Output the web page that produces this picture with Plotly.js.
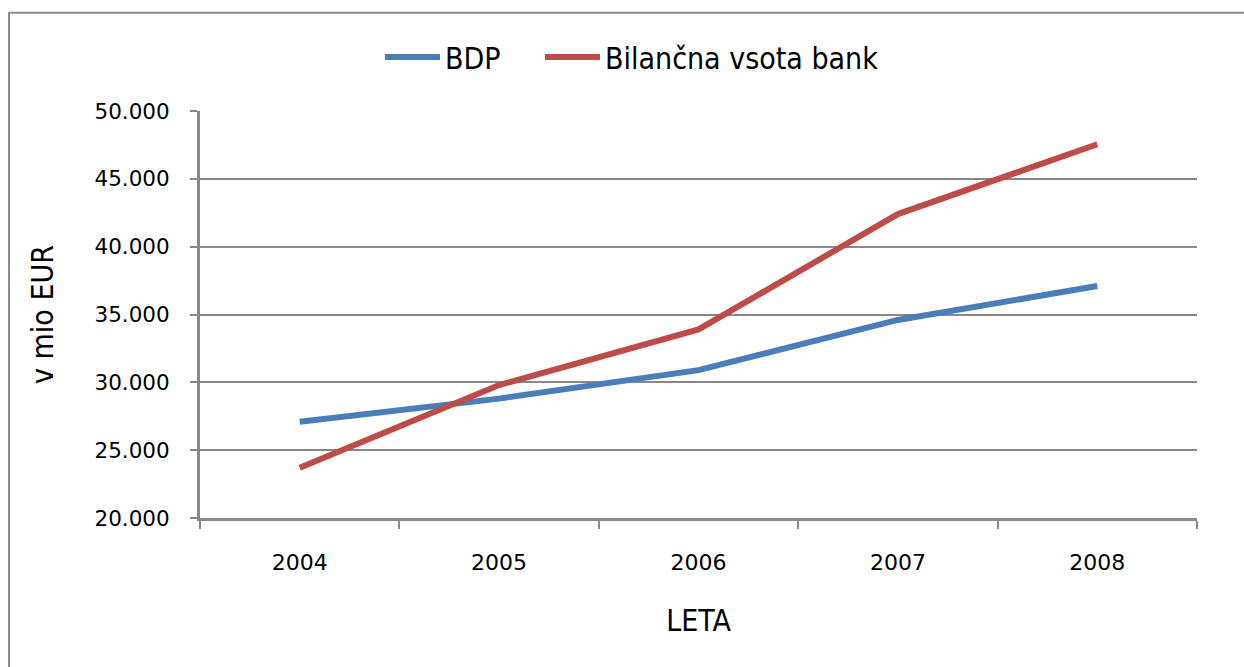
<!DOCTYPE html>
<html>
<head>
<meta charset="utf-8">
<script src="https://cdn.plot.ly/plotly-3.0.1.min.js"></script>
<style>
html,body{margin:0;padding:0;background:#fff;overflow:hidden;}
#chart{width:1244px;height:667px;}
</style>
</head>
<body>
<div id="chart"></div>
<script>
// Data
const years = ['2004', '2005', '2006', '2007', '2008'];
const bdp = [27100, 28800, 30900, 34600, 37100];
const bilancnaVsota = [23700, 29800, 33900, 42400, 47550];
const seriesNames = ['BDP', 'Bilančna vsota bank'];
const yTicks = [20000, 25000, 30000, 35000, 40000, 45000, 50000];

const condensed = '"DejaVu Sans Condensed", "Liberation Sans Narrow", sans-serif';
const tickFont = '"DejaVu Sans", Verdana, sans-serif';
const gridCol = '#888888';

const traces = [
  {x: years, y: bdp, name: seriesNames[0], type: 'scatter', mode: 'lines',
   line: {color: '#4a7ebb', width: 6}, legend: 'legend'},
  {x: years, y: bilancnaVsota, name: seriesNames[1], type: 'scatter', mode: 'lines',
   line: {color: '#be4b48', width: 6}, legend: 'legend2'}
];

const legendBase = {
  orientation: 'h', xanchor: 'left', y: 1.1325, yanchor: 'middle',
  font: {family: condensed, size: 30, color: '#000'},
  itemwidth: 55, bgcolor: 'rgba(0,0,0,0)'
};

const layout = {
  width: 1244, height: 667,
  margin: {l: 200, r: 47, t: 111, b: 149},
  paper_bgcolor: '#ffffff', plot_bgcolor: '#ffffff',
  separators: ',.',
  showlegend: true,
  legend: Object.assign({}, legendBase, {x: (380 - 200) / 997}),
  legend2: Object.assign({}, legendBase, {x: (540 - 200) / 997}),
  xaxis: {
    type: 'category', range: [-0.5, 4.5], tickson: 'boundaries',
    ticks: 'outside', ticklen: 8, tickwidth: 2, tickcolor: gridCol,
    showline: true, linecolor: gridCol, linewidth: 3, showgrid: false, zeroline: false,
    tickfont: {family: tickFont, size: 22, color: '#000'},
    ticklabelstandoff: 23,
    title: {text: 'LETA', font: {family: condensed, size: 30, color: '#000'}, standoff: 36},
    automargin: false, fixedrange: true
  },
  yaxis: {
    range: [20000, 50000], tickvals: yTicks, tickformat: ',d',
    ticks: 'outside', ticklen: 7, tickwidth: 2, tickcolor: gridCol,
    showline: true, linecolor: gridCol, linewidth: 3,
    showgrid: true, gridcolor: gridCol, gridwidth: 2, zeroline: false,
    tickfont: {family: tickFont, size: 21.5, color: '#000'},
    ticklabelstandoff: 16,
    title: {text: 'v mio EUR', font: {family: condensed, size: 30, color: '#000'}, standoff: 32},
    automargin: false, fixedrange: true
  },
  shapes: [{
    type: 'rect', xref: 'paper', yref: 'paper',
    x0: (9 - 200) / 997, x1: (1260 - 200) / 997,
    y0: (518 - 12) / 407.6, y1: (518 - 690) / 407.6,
    line: {color: '#8c8c8c', width: 2}, fillcolor: 'rgba(0,0,0,0)', layer: 'below'
  }]
};

Plotly.newPlot('chart', traces, layout, {displayModeBar: false, staticPlot: true});
</script>
</body>
</html>
